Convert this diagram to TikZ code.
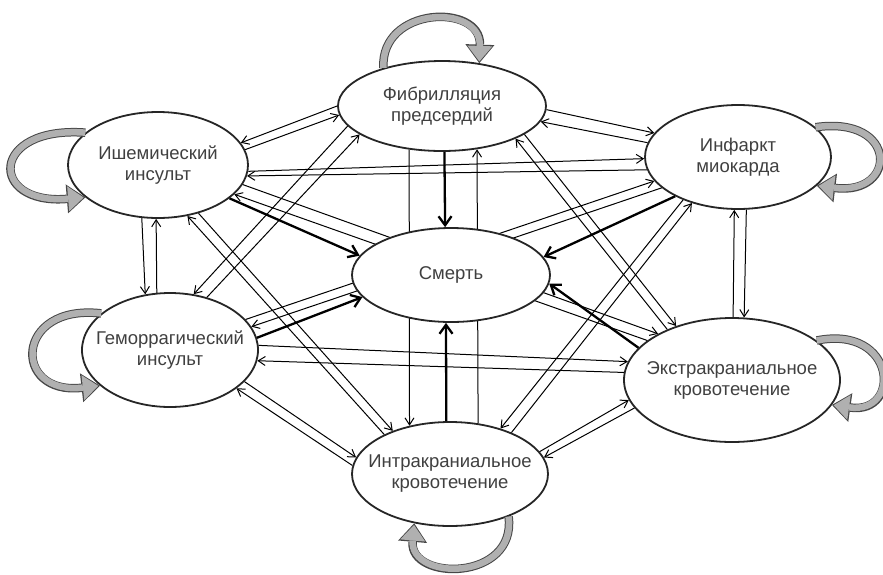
\documentclass[tikz,border=0pt]{standalone}
\usepackage{fontspec}
\setmainfont{Liberation Sans}
\usetikzlibrary{shapes.geometric,arrows.meta}
\begin{document}
\begin{tikzpicture}[x=1pt,y=-1pt,
  st/.style={ellipse, draw=black!85, line width=1.8pt, fill=white, inner sep=0pt},
  lbl/.style={align=center, text=black!75, font=\fontsize{18.5}{21}\selectfont},
  conn/.style={line width=1pt, -{Straight Barb[length=7pt,width=9pt]}},
  death/.style={line width=2.3pt, -{Straight Barb[length=9pt,width=13pt]}},
  loopband/.style={line width=6.5pt, draw=gray!62, shorten >=1.7pt,
    -{Triangle[length=15.5pt,width=25pt,line width=0pt,fill=gray!62]},
    preaction={draw=black!72, line width=8.5pt, shorten >=0pt,
      -{Triangle[length=18.5pt,width=29pt,line width=0pt,fill=black!72]}}}
]
\useasboundingbox (0,0) rectangle (883,574);

% outer states
\node[st, minimum width=208pt, minimum height=90pt]  (FP) at (442,106) {};
\node[st, minimum width=180pt, minimum height=106pt] (II) at (158,165) {};
\node[st, minimum width=186pt, minimum height=104pt] (IM) at (738,157) {};
\node[st, minimum width=176pt, minimum height=114pt] (GI) at (170,350) {};
\node[st, minimum width=216pt, minimum height=124pt] (EK) at (732,380) {};
\node[st, minimum width=196pt, minimum height=104pt] (IK) at (450,474) {};

% thin two-way connectors
\draw[conn] (FP.180.6) -- (II.15.3);
\draw[conn] (II.10) -- (FP.185);
\draw[conn] (FP.358.9) -- (IM.164.7);
\draw[conn] (IM.171.4) -- (FP.351.8);
\draw[conn] (II.356.9) -- (IM.181.9);
\draw[conn] (IM.188.7) -- (II.353.2);
\draw[conn] (II.253.2) -- (GI.114.4);
\draw[conn] (GI.103.8) -- (II.268);
\draw[conn] (EK.89.1) -- (IM.266.8);
\draw[conn] (IM.279.8) -- (EK.79);
\draw[conn] (FP.233.2) -- (IK.130.1);
\draw[conn] (IK.61.6) -- (FP.309.5);
\draw[conn] (IK.149.7) -- (II.300.4);
\draw[conn] (II.310.9) -- (IK.143);
\draw[conn] (FP.192.9) -- (GI.67.4);
\draw[conn] (GI.55) -- (FP.199.1);
\draw[conn] (GI.337.1) -- (IK.170.4);
\draw[conn] (IK.175) -- (GI.330);
\draw[conn] (GI.22.5) -- (IM.196.7);
\draw[conn] (IM.202.2) -- (GI.16);
\draw[conn] (II.347.1) -- (EK.148);
\draw[conn] (EK.155) -- (II.339.9);
\draw[conn] (EK.142) -- (FP.336.3);
\draw[conn] (FP.341.3) -- (EK.136);
\draw[conn] (GI.3.2) -- (EK.170.5);
\draw[conn] (EK.176.3) -- (GI.353.7);
\draw[conn] (IM.218.9) -- (IK.42.8);
\draw[conn] (IK.34.1) -- (IM.225.3);
\draw[conn] (IK.14.9) -- (EK.191.2);
\draw[conn] (EK.196) -- (IK.10);

% death node on top of crossing lines
\node[st, minimum width=198pt, minimum height=94pt] (SM) at (451,275) {};

% thick arrows to death
\draw[death] (II.335) -- (SM.168.5);
\draw[death] (GI.8) -- (SM.194.6);
\draw[death] (FP.273.8) -- (SM.97);
\draw[death] (IM.212.3) -- (SM.11);
\draw[death] (EK.161) -- (SM.355);
\draw[death] (IK.94.5) -- (SM.264);

% self loops
\draw[loopband] (FP.147.9) .. controls +(-3,-62) and +(2,-60) .. (FP.49.5);
\draw[loopband] (II.156.5) .. controls +(-96,-7) and +(-97,8) .. (II.204.7);
\draw[loopband] (IM.21.3) .. controls +(83,-12) and +(81,10) .. (IM.340.5);
\draw[loopband] (GI.152.8) .. controls +(-87,-10) and +(-88,10) .. (GI.207.9);
\draw[loopband] (EK.25.2) .. controls +(80,-16) and +(70,10) .. (EK.346.2);
\draw[loopband] (IK.324.1) .. controls +(8,65) and +(-5,58) .. (IK.234.5);

% labels
\node[lbl] (FPt) at (FP) {Фибрилляция\\предсердий};
\node[lbl] (IIt) at (II) {Ишемический\\инсульт};
\node[lbl] (IMt) at (IM) {Инфаркт\\миокарда};
\node[lbl] (GIt) at (GI) {Геморрагический\\инсульт};
\node[lbl] (EKt) at (EK) {Экстракраниальное\\кровотечение};
\node[lbl] (IKt) at (IK) {Интракраниальное\\кровотечение};
\node[lbl] (SMt) at (SM) {Смерть};
\end{tikzpicture}
\end{document}
